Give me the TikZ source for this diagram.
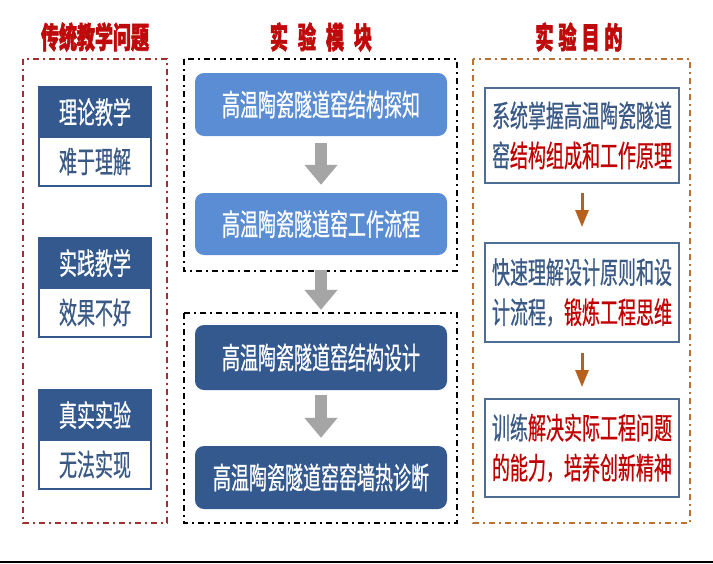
\documentclass[tikz,border=0pt]{standalone}
\usepackage{fontspec}
\usetikzlibrary{arrows.meta}
\newfontfamily\cjk[FakeStretch=0.6,FakeBold=0.6]{Noto Sans CJK SC}
\newfontfamily\cjkt[FakeStretch=0.6,BoldFeatures={FakeBold=1.8}]{Noto Sans CJK SC}
\definecolor{titlered}{HTML}{BE0A0A}
\definecolor{dblue}{HTML}{34598F}
\definecolor{lblue}{HTML}{5A8DD4}
\definecolor{tblue}{HTML}{3A5A85}
\definecolor{bordblue}{HTML}{4F6E97}
\definecolor{arrgray}{HTML}{A5A5A5}
\definecolor{arrbrown}{HTML}{B5601C}
\definecolor{boxred}{HTML}{A0302E}
\definecolor{boxbrown}{HTML}{B87333}
\definecolor{hired}{HTML}{C00000}
\tikzset{
  cjkfont/.style={font=\cjk\fontsize{30}{40}\selectfont},
  titletext/.style={font=\cjkt\bfseries\fontsize{30}{36}\selectfont, text=titlered, inner sep=0pt},
  dashbox/.style={line width=2pt, dash pattern=on 6pt off 4pt on 2pt off 4pt},
  lefttop/.style={cjkfont, rectangle, fill=dblue, draw=dblue, line width=1.5pt, text=white, minimum width=112pt, minimum height=50pt, inner sep=0pt},
  leftbot/.style={cjkfont, rectangle, fill=white, draw=dblue, line width=1.5pt, text=tblue, minimum width=112pt, minimum height=49pt, inner sep=0pt},
  midbox/.style={cjkfont, rectangle, rounded corners=9pt, text=white, minimum width=252pt, inner sep=0pt},
  rightbox/.style={cjkfont, rectangle, fill=white, draw=bordblue, line width=2pt, text=tblue, minimum width=194pt, align=center, inner sep=0pt},
  grayarrow/.style={draw=arrgray, line width=12pt, -{Triangle[width=32pt,length=20pt]}},
  brownarrow/.style={draw=arrbrown, line width=3pt, -{Triangle[width=13pt,length=17pt]}},
}
\begin{document}
\begin{tikzpicture}[x=1pt,y=-1pt]
\useasboundingbox (0,0) rectangle (713,563);
\fill[white] (0,0) rectangle (713,563);
\fill[black] (0,560.5) rectangle (713,563);

% titles
\node[titletext] (t1) at (95,37) {传统教学问题};
\node[titletext] (t2) at (321,37) {实\hspace{10pt}验\hspace{10pt}模\hspace{10pt}块};
\node[titletext] (t3) at (579,37) {实\hspace{5pt}验\hspace{5pt}目\hspace{5pt}的};

% dashed frames
\draw[dashbox, draw=boxred] (23,59) rectangle (167,523);
\draw[dashbox, draw=black] (184,59) rectangle (457,271);
\draw[dashbox, draw=black] (184,313) rectangle (457,523);
\draw[dashbox, draw=boxbrown] (473,59) rectangle (690,523);

% left column
\node[leftbot] (l1b) at (95,161.5) {难于理解};
\node[lefttop] (l1a) at (95,112) {理论教学};
\node[leftbot] (l2b) at (95,312.5) {效果不好};
\node[lefttop] (l2a) at (95,263) {实践教学};
\node[leftbot] (l3b) at (95,464.5) {无法实现};
\node[lefttop] (l3a) at (95,415) {真实实验};

% middle column
\node[midbox, fill=lblue, minimum height=63pt] (m1) at (321,104.5) {高温陶瓷隧道窑结构探知};
\node[midbox, fill=lblue, minimum height=62pt] (m2) at (321,224) {高温陶瓷隧道窑工作流程};
\node[midbox, fill=dblue, minimum height=65pt] (m3) at (321,357.5) {高温陶瓷隧道窑结构设计};
\node[midbox, fill=dblue, minimum height=63pt] (m4) at (321,477.5) {高温陶瓷隧道窑窑墙热诊断};

\draw[grayarrow, shorten <=7pt, shorten >=8pt] (m1) -- (m2);
\draw[grayarrow, shorten <=15pt, shorten >=15pt] (m2) -- (m3);
\draw[grayarrow, shorten <=5pt, shorten >=8pt] (m3) -- (m4);

% right column
\node[rightbox, minimum height=95pt] (r1) at (582,135.5) {系统掌握高温陶瓷隧道\\窑\textcolor{hired}{结构组成和工作原理}};
\node[rightbox, minimum height=99pt] (r2) at (582,292.5) {快速理解设计原则和设\\计流程，\textcolor{hired}{锻炼工程思维}};
\node[rightbox, minimum height=98pt] (r3) at (582,448) {训练\textcolor{hired}{解决实际工程问题}\\\textcolor{hired}{的能力，培养创新精神}};

\draw[brownarrow, shorten <=9pt, shorten >=15pt] (r1) -- (r2);
\draw[brownarrow, shorten <=10pt, shorten >=11pt] (r2) -- (r3);
\end{tikzpicture}
\end{document}
